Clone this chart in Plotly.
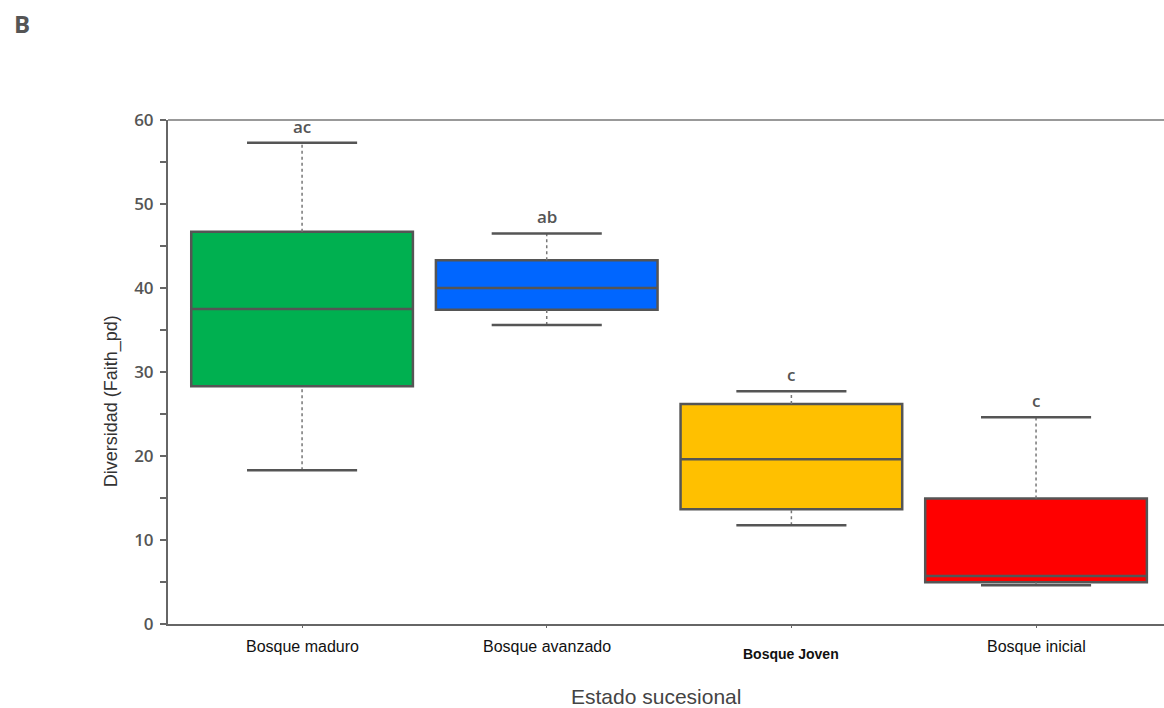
import plotly.graph_objects as go

# Successional stages and Faith_pd summary statistics
categories = ["Bosque maduro", "Bosque avanzado", "Bosque Joven", "Bosque inicial"]
tick_labels = ["Bosque maduro", "Bosque avanzado", "<b>Bosque Joven</b>", "Bosque inicial"]
lower_whisker = [18.3, 35.6, 11.75, 4.6]
q1 = [28.3, 37.4, 13.65, 4.96]
median = [37.5, 40.0, 19.6, 5.7]
q3 = [46.7, 43.3, 26.2, 14.95]
upper_whisker = [57.3, 46.5, 27.7, 24.6]
letters = ["ac", "ab", "c", "c"]
fill_colors = ["#00B050", "#0066FF", "#FFC000", "#FF0000"]

BOX_W = 0.906
CAP_HALF = 0.225
EDGE = "#555555"

positions = list(range(len(categories)))
fig = go.Figure()

for i, cat in enumerate(categories):
    x = positions[i]
    # box body (whiskers drawn separately so the stems can be dotted)
    fig.add_trace(go.Box(
        x=[x], q1=[q1[i]], median=[median[i]], q3=[q3[i]],
        lowerfence=[q1[i]], upperfence=[q3[i]],
        width=BOX_W, whiskerwidth=0, fillcolor=fill_colors[i],
        line=dict(color=EDGE, width=2.5), name=cat, showlegend=False,
        hoverinfo="skip", boxpoints=False,
    ))
    # dotted whisker stems
    for a, b in ((q3[i], upper_whisker[i]), (lower_whisker[i], q1[i])):
        fig.add_trace(go.Scatter(
            x=[x, x], y=[a, b], mode="lines",
            line=dict(color="#777777", width=1.5, dash="dot"),
            showlegend=False, hoverinfo="skip",
        ))
    # whisker caps
    for yv in (upper_whisker[i], lower_whisker[i]):
        fig.add_trace(go.Scatter(
            x=[x - CAP_HALF, x + CAP_HALF], y=[yv, yv], mode="lines",
            line=dict(color=EDGE, width=2.5),
            showlegend=False, hoverinfo="skip",
        ))
    # significance letters above each upper whisker
    fig.add_annotation(
        x=x, y=upper_whisker[i], text=letters[i], showarrow=False,
        yanchor="bottom", yshift=3,
        font=dict(family="Open Sans", size=17, color="#555555", weight=600),
    )
    # category label under the axis
    bold = "<b>" in tick_labels[i]
    fig.add_annotation(
        x=x, xref="x", yref="paper", y=-0.059 if bold else -0.045,
        text=tick_labels[i], showarrow=False, yanchor="middle",
        font=dict(family="Liberation Sans", size=14 if bold else 16, color="#111111"),
    )

# top frame line
fig.add_shape(type="line", xref="paper", yref="paper", x0=0, x1=1, y0=1, y1=1,
              line=dict(color="#999999", width=2))

# panel tag
fig.add_annotation(
    xref="paper", yref="paper", x=-0.157, y=1.192, xanchor="left", yanchor="middle",
    text="<b>B</b>", showarrow=False,
    font=dict(family="Open Sans", size=24, color="#555555"),
)

# axis titles
fig.add_annotation(
    xref="paper", yref="paper", x=0.49, y=-0.143, xanchor="center", yanchor="middle",
    text="Estado sucesional", showarrow=False,
    font=dict(family="Liberation Sans", size=21, color="#444444"),
)
fig.add_annotation(
    xref="paper", yref="paper", x=-0.0572, y=0.442, xanchor="center", yanchor="middle",
    text="Diversidad (Faith_pd)", showarrow=False, textangle=-90,
    font=dict(family="Liberation Sans", size=18, color="#333333"),
)

fig.update_layout(
    width=1164, height=708,
    margin=dict(l=168, r=0, t=120, b=84),
    paper_bgcolor="white", plot_bgcolor="white",
    xaxis=dict(
        range=[-0.548, 3.523], tickmode="array", tickvals=positions,
        showticklabels=False, showgrid=False, zeroline=False,
        showline=True, linecolor="#666666", linewidth=2,
        ticks="outside", ticklen=2, tickcolor="#666666",
    ),
    yaxis=dict(
        range=[0, 60], tickmode="array", tickvals=[0, 10, 20, 30, 40, 50, 60],
        showgrid=False, zeroline=False,
        showline=True, linecolor="#666666", linewidth=2,
        ticks="outside", ticklen=6, tickcolor="#666666", tickwidth=2,
        minor=dict(tickvals=[5, 15, 25, 35, 45, 55], ticks="outside",
                   ticklen=6, tickcolor="#666666", tickwidth=2),
        tickfont=dict(family="Open Sans", size=17, color="#555555", weight=600),
        ticklabelstandoff=3,
    ),
)

fig.write_html("out.html")
